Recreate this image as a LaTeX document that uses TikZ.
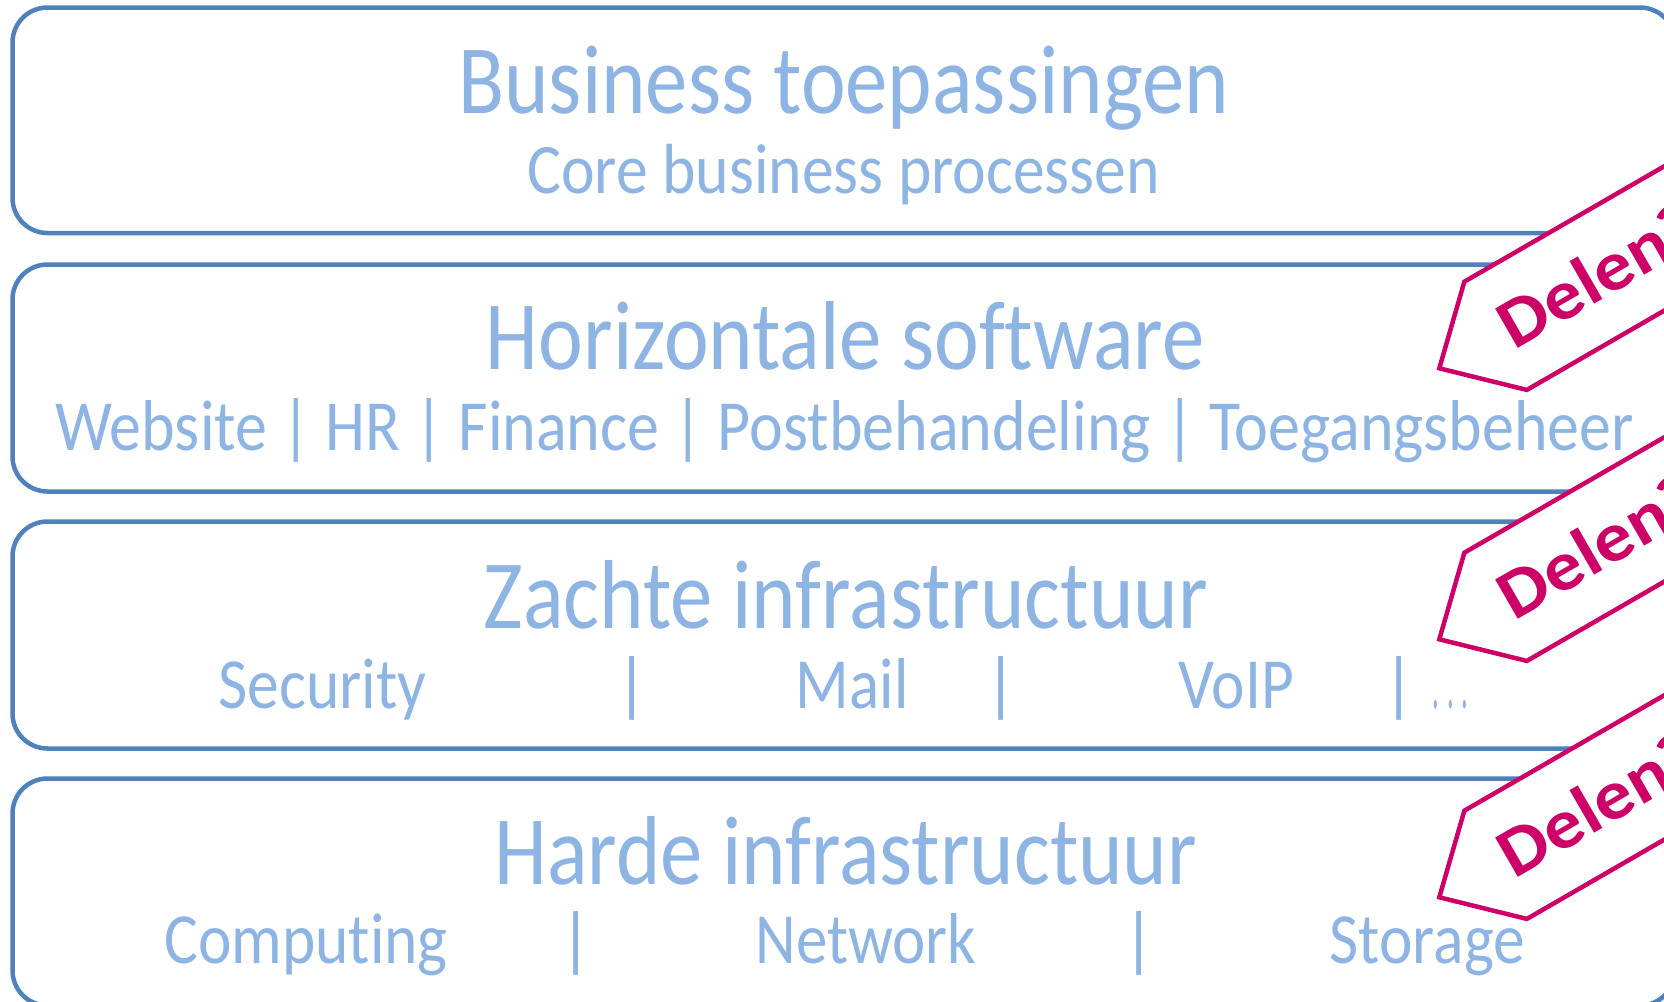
\documentclass[tikz,border=0pt]{standalone}
\usepackage{fontspec}
\usepackage{graphicx}
\setmainfont[Ligatures={NoCommon,NoContextual,NoRare},Contextuals=NoAlternate]{Carlito}
\definecolor{boxline}{HTML}{4F81BD}
\definecolor{txt}{HTML}{8DB4E2}
\definecolor{pink}{HTML}{CC0066}
\newcommand\fitw[2]{\resizebox{#1pt}{\height}{#2}}
\tikzset{
  layer/.style={draw=boxline, line width=4.5pt, rounded corners=35pt},
  title/.style={font=\fontsize{98}{110}\selectfont, text=txt, inner sep=0pt, anchor=base},
  sub/.style={font=\fontsize{72}{80}\selectfont, text=txt, inner sep=0pt, anchor=base},
  tagbox/.style={draw=pink, fill=white, line width=4.5pt, line join=miter},
  tagtext/.style={font=\fontsize{70}{78}\selectfont\bfseries, text=pink, inner sep=0pt, anchor=base west, rotate=30}
}
\begin{document}
\begin{tikzpicture}[x=1pt,y=-1pt]
\useasboundingbox (0,0) rectangle (1664,1001);
\clip (0,0) rectangle (1664,1001);
\fill[white] (0,0) rectangle (1664,1001);
% layers
\draw[layer] (12.5,7.5) rectangle (1675,233);
\draw[layer] (12.5,264.5) rectangle (1675,491.5);
\draw[layer] (12.5,521.5) rectangle (1675,748.5);
\draw[layer] (12.5,778.5) rectangle (1675,1005.5);
% layer 1
\node[title] (t1) at (843.7,113.5) {\fitw{770.5}{Business toepassingen}};
\node[sub, font=\fontsize{71}{80}\selectfont] (s1) at (843.7,193.5) {\fitw{632.6}{Core business processen}};
% layer 2
\node[title] (t2) at (845.2,369.5) {\fitw{718.5}{Horizontale software}};
\node[sub] (s2) at (844.7,450.7) {\fitw{1579}{Website | HR | Finance | Postbehandeling | Toegangsbeheer}};
% layer 3
\node[title] (t3) at (845.8,628.2) {\fitw{723.7}{Zachte infrastructuur}};
\node[sub] (s3a) at (322.6,708) {\fitw{208}{Security}};
\node[sub] (s3b) at (632.5,708) {|};
\node[sub] (s3c) at (852.2,708) {\fitw{112.5}{Mail}};
\node[sub] (s3d) at (1000.7,708) {|};
\node[sub] (s3e) at (1236,708) {\fitw{115.5}{VoIP}};
\node[sub] (s3f) at (1398.9,708) {|};
\node[sub] (s3g) at (1450.5,708) {\fitw{36}{. . .}};
% layer 4
\node[title] (t4) at (845.8,884) {\fitw{702.5}{Harde infrastructuur}};
\node[sub] (s4a) at (306.1,963.8) {\fitw{283.3}{Comput\kern0pt ing}};
\node[sub] (s4b) at (576.2,963.8) {|};
\node[sub] (s4c) at (866,963.8) {\fitw{220.7}{Network}};
\node[sub] (s4d) at (1138.7,963.8) {|};
\node[sub] (s4e) at (1427.4,963.8) {\fitw{195.3}{Storage}};
% tags
\foreach \ty/\nm in {368.3/a, 639.3/b, 897.3/c}{
  \begin{scope}[shift={(1439.3,\ty)}, rotate=30]
    \draw[tagbox] (0,0) -- (65,-62.5) -- (430,-62.5) -- (430,62.5) -- (65,62.5) -- cycle;
    \node[tagtext] (tag\nm) at (74,22) {\resizebox{1.1\width}{\height}{Delen?}};
  \end{scope}
}
\end{tikzpicture}
\end{document}
